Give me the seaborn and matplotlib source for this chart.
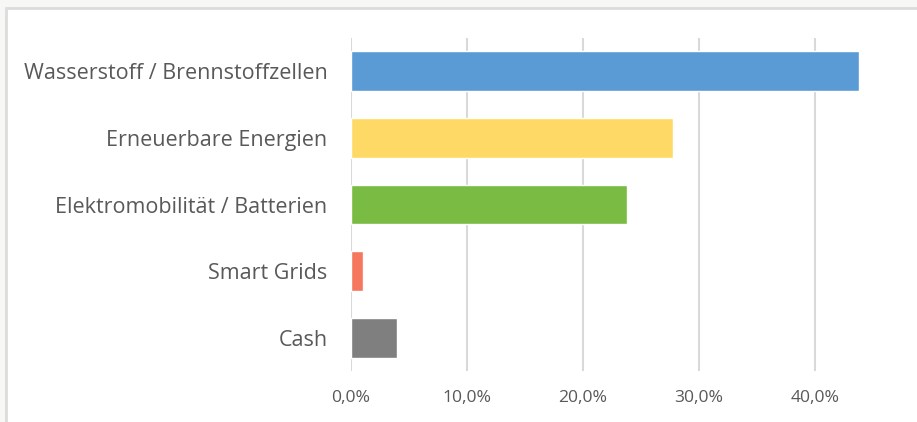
import seaborn as sns
import pandas as pd
import matplotlib.pyplot as plt
from matplotlib.patches import Rectangle
from matplotlib.ticker import FuncFormatter

categories = ['Wasserstoff / Brennstoffzellen', 'Erneuerbare Energien',
              'Elektromobilität / Batterien', 'Smart Grids', 'Cash']
shares = [0.438, 0.278, 0.238, 0.010, 0.040]
colors = ['#5b9bd5', '#ffd966', '#7abb43', '#f4775e', '#7f7f7f']
xticks = [0.0, 0.1, 0.2, 0.3, 0.4]

df = pd.DataFrame({'cat': categories, 'share': shares})

sns.set_style('white')
plt.rcParams['font.family'] = ['Open Sans', 'DejaVu Sans']

fig = plt.figure(figsize=(9.17, 4.22), dpi=100)
fig.patch.set_facecolor('#f7f7f5')
# white chart card with grey border, cut off at right and bottom
fig.patches.append(Rectangle((6 / 917, -0.1), 1.2, 1 - 8 / 422 + 0.1,
                             transform=fig.transFigure, facecolor='white',
                             edgecolor='#dcdcdc', linewidth=2.0, zorder=-5))

ax = fig.add_axes([351 / 917, 51 / 422, 1 - 351 / 917, 333 / 422])
ax.set_facecolor('none')
sns.barplot(data=df, x='share', y='cat', hue='cat', palette=colors,
            orient='h', width=0.6, saturation=1, legend=False, ax=ax, zorder=3)

ax.set_xlim(0, (917 - 351) / 1160)
ax.set_xticks(xticks)
ax.xaxis.set_major_formatter(FuncFormatter(lambda v, p: f'{v * 100:.1f}%'.replace('.', ',')))
ax.grid(axis='x', color='#d9d9d9', linewidth=1.5, zorder=0)
ax.set_axisbelow(True)
for s in ax.spines.values():
    s.set_visible(False)
ax.set_xlabel('')
ax.set_ylabel('')
ax.tick_params(axis='y', length=0, pad=17, labelsize=15.5, labelcolor='#595959')
ax.tick_params(axis='x', length=0, pad=14, labelsize=12.6, labelcolor='#595959')

fig.savefig('out.png', dpi=100, facecolor=fig.get_facecolor())
